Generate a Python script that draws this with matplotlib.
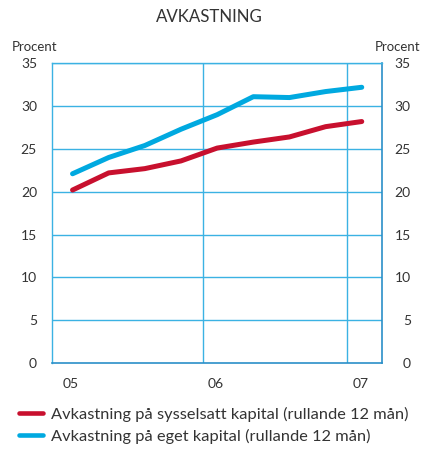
import matplotlib
matplotlib.use("Agg")
import matplotlib.pyplot as plt

plt.rcParams['font.family'] = ['Lato', 'DejaVu Sans']

# quarterly points, plotted as fractional years
x_pos = [2005.1, 2005.35, 2005.6, 2005.85, 2006.1, 2006.35, 2006.6, 2006.85, 2007.1]
sysselsatt = [20.2, 22.2, 22.7, 23.6, 25.1, 25.8, 26.4, 27.6, 28.2]
eget = [22.1, 24.0, 25.4, 27.3, 29.0, 31.1, 31.0, 31.7, 32.2]

year_lines = [2006, 2007]
year_labels = ['05', '06', '07']
year_label_pos = [2005.09, 2006.09, 2007.09]
y_ticks = [0, 5, 10, 15, 20, 25, 30, 35]

red = '#C8102E'
blue = '#00A9E0'
grid_c = '#3BB2E3'
frame_c = '#2A8FC8'
txt = '#333333'

fig = plt.figure(figsize=(4.22, 4.5), dpi=100)
ax = fig.add_axes([52.3 / 422, 87 / 450, 329.4 / 422, 299.7 / 450])

ax.set_xlim(2004.96, 2007.238)
ax.set_ylim(0, 35)

for y in y_ticks[1:]:
    ax.axhline(y, color=grid_c, lw=1, zorder=1)
for xv in year_lines:
    ax.axvline(xv, color=grid_c, lw=1, zorder=1)

ax.plot(x_pos, sysselsatt, color=red, lw=3.6, solid_capstyle='round',
        label='Avkastning på sysselsatt kapital (rullande 12 mån)', zorder=3)
ax.plot(x_pos, eget, color=blue, lw=3.6, solid_capstyle='round',
        label='Avkastning på eget kapital (rullande 12 mån)', zorder=3)

for side in ['left', 'top']:
    ax.spines[side].set_color(grid_c)
    ax.spines[side].set_linewidth(1)
for side in ['bottom', 'right']:
    ax.spines[side].set_color(frame_c)
    ax.spines[side].set_linewidth(1.2)

ax.set_xticks(year_label_pos)
ax.set_xticklabels(year_labels)
ax.set_yticks(y_ticks)
ax.tick_params(axis='x', length=0, pad=11, labelsize=10, labelcolor=txt)
ax.tick_params(axis='y', length=0, pad=11, labelsize=10, labelcolor=txt)

ax2 = ax.twinx()
ax2.set_ylim(0, 35)
ax2.set_yticks(y_ticks)
ax2.tick_params(axis='y', length=0, pad=21, labelsize=10, labelcolor=txt)
for lab in ax2.get_yticklabels():
    lab.set_horizontalalignment('right')
for s in ax2.spines.values():
    s.set_visible(False)

fig.text(12 / 422, 1 - 47 / 450, 'Procent', fontsize=9.5, color=txt, va='center', ha='left')
fig.text(420 / 422, 1 - 47 / 450, 'Procent', fontsize=9.5, color=txt, va='center', ha='right')
fig.text(209 / 422, 1 - 17.5 / 450, 'AVKASTNING', fontsize=12.2, color=txt, va='center', ha='center')

handles, labels = ax.get_legend_handles_labels()
leg = fig.legend(handles, labels, loc='upper left', bbox_to_anchor=(19 / 422, 1 - 407 / 450),
                 frameon=False, fontsize=11.8, handlelength=1.45, handletextpad=0.5,
                 labelspacing=0.4, borderpad=0, borderaxespad=0)
for t in leg.get_texts():
    t.set_color(txt)
for h in leg.legend_handles:
    h.set_linewidth(3.3)

fig.savefig('out.png', dpi=100)
